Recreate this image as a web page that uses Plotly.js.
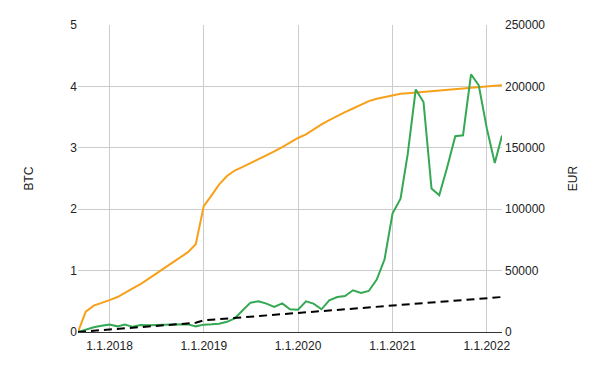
<!DOCTYPE html>
<html>
<head>
<meta charset="utf-8">
<script src="https://cdn.plot.ly/plotly-3.0.1.min.js"></script>
<style>
html,body{margin:0;padding:0;background:#fff;}
#chart{width:600px;height:371px;}
</style>
</head>
<body>
<div id="chart"></div>
<script>
var dates = [
  "2017-09-01","2017-10-01","2017-11-01","2017-12-01",
  "2018-01-01","2018-02-01","2018-03-01","2018-04-01","2018-05-01","2018-06-01",
  "2018-07-01","2018-08-01","2018-09-01","2018-10-01","2018-11-01","2018-12-01",
  "2019-01-01","2019-02-01","2019-03-01","2019-04-01","2019-05-01","2019-06-01",
  "2019-07-01","2019-08-01","2019-09-01","2019-10-01","2019-11-01","2019-12-01",
  "2020-01-01","2020-02-01","2020-03-01","2020-04-01","2020-05-01","2020-06-01",
  "2020-07-01","2020-08-01","2020-09-01","2020-10-01","2020-11-01","2020-12-01",
  "2021-01-01","2021-02-01","2021-03-01","2021-04-01","2021-05-01","2021-06-01",
  "2021-07-01","2021-08-01","2021-09-01","2021-10-01","2021-11-01","2021-12-01",
  "2022-01-01","2022-02-01","2022-03-01"
];
var btcHeld = [
  0, 0.33, 0.43, 0.48,
  0.52, 0.57, 0.63, 0.71, 0.78, 0.86,
  0.95, 1.04, 1.13, 1.22, 1.30, 1.43,
  2.05, 2.23, 2.40, 2.54, 2.63, 2.69,
  2.75, 2.81, 2.87, 2.94, 3.01, 3.09,
  3.16, 3.22, 3.30, 3.38, 3.45, 3.52,
  3.58, 3.64, 3.70, 3.76, 3.80, 3.83,
  3.86, 3.88, 3.89, 3.90, 3.91, 3.93,
  3.94, 3.95, 3.96, 3.97, 3.98, 3.99,
  4.00, 4.01, 4.02
];
var eurValue = [
  0, 1900, 3800, 5000,
  6000, 4600, 6000, 4200, 5700, 5400,
  5400, 6000, 6200, 6300, 6300, 4600,
  6000, 6300, 6800, 8300, 11000, 17700,
  23900, 25000, 23100, 20500, 23300, 18500,
  18200, 25000, 23100, 18500, 25800, 28500,
  29300, 34000, 31800, 33400, 42700, 59000,
  96400, 108600, 145000, 197500, 187300, 116800,
  111300, 134400, 159400, 160200, 209800, 200900,
  166000, 137600, 160000
];
var eurInvested = [
  0, 500, 1000, 1500,
  2000, 2500, 3000, 3500, 4000, 4500,
  5000, 5500, 6000, 6500, 7000, 7500,
  9500, 10000, 10500, 11000, 11500, 12000,
  12500, 13000, 13500, 14000, 14500, 15000,
  15500, 16000, 16500, 17000, 17500, 18000,
  18500, 19000, 19500, 20000, 20500, 21000,
  21500, 22000, 22500, 23000, 23500, 24000,
  24500, 25000, 25500, 26000, 26500, 27000,
  27500, 28000, 28500
];
var yTitleLeft = "BTC";
var yTitleRight = "EUR";

var traces = [
  {x: dates, y: btcHeld, type: "scatter", mode: "lines", yaxis: "y",
   line: {color: "#f7a11a", width: 2}, hoverinfo: "skip"},
  {x: dates, y: eurValue, type: "scatter", mode: "lines", yaxis: "y2",
   line: {color: "#34a853", width: 2}, hoverinfo: "skip"},
  {x: dates, y: eurInvested, type: "scatter", mode: "lines", yaxis: "y2",
   line: {color: "#000000", width: 2, dash: "8px,5px"}, hoverinfo: "skip"}
];

var font = {family: "Liberation Sans, Arial, sans-serif", size: 12, color: "#222222"};

var layout = {
  width: 600, height: 371,
  margin: {l: 78, r: 98, t: 25, b: 39, pad: 0},
  paper_bgcolor: "#ffffff", plot_bgcolor: "#ffffff",
  showlegend: false,
  font: font,
  xaxis: {
    type: "date",
    range: ["2017-09-01", "2022-03-01"],
    tick0: "2018-01-01", dtick: "M12",
    tickformat: "%-d.%-m.%Y",
    ticklabelstandoff: 3,
    showgrid: true, gridcolor: "#cccccc", gridwidth: 1,
    showline: true, linecolor: "#333333", linewidth: 1,
    zeroline: false, ticks: "", tickfont: font, fixedrange: true
  },
  yaxis: {
    range: [0, 5], dtick: 1,
    showgrid: true, gridcolor: "#cccccc", gridwidth: 1,
    zeroline: false, showline: false, ticks: "",
    tickfont: font,
    title: {text: yTitleLeft, font: font, standoff: 34},
    fixedrange: true
  },
  yaxis2: {
    range: [0, 250000], dtick: 50000, tickformat: "d",
    overlaying: "y", side: "right",
    ticklabelstandoff: 2,
    showgrid: false, zeroline: false, showline: false, ticks: "",
    tickfont: font,
    title: {text: yTitleRight, font: font, standoff: 24},
    fixedrange: true
  }
};

Plotly.newPlot("chart", traces, layout, {displayModeBar: false, staticPlot: true});
</script>
</body>
</html>
